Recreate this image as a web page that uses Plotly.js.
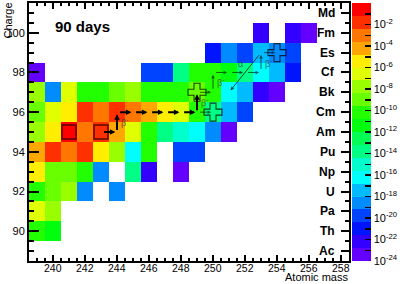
<!DOCTYPE html>
<html><head><meta charset="utf-8">
<script src="https://cdn.plot.ly/plotly-3.0.1.min.js"></script>
<style>html,body{margin:0;padding:0;background:#fff}</style>
</head><body><div id="chart" style="width:407px;height:284px"></div>
<script>
// Atomic mass columns and charge rows
const masses = [239,240,241,242,243,244,245,246,247,248,249,250,251,252,253,254,255,256,257,258];
const charges = [89,90,91,92,93,94,95,96,97,98,99,100,101];
const elements = ['Ac','Th','Pa','U','Np','Pu','Am','Cm','Bk','Cf','Es','Fm','Md'];
const massTicks = [240,242,244,246,248,250,252,254,256,258];

// log10 of relative abundance after 90 days, per charge row (mass 239..258), null = empty
const logZ89  = [null,null,null,null,null,null,null,null,null,null,null,null,null,null,null,null,null,null,null,null];
const logZ90  = [-10.2,-11.4,null,null,null,null,null,null,null,null,null,null,null,null,null,null,null,null,null,null];
const logZ91  = [-6.6,-7.8,null,null,null,null,null,null,null,null,null,null,null,null,null,null,null,null,null,null];
const logZ92  = [-10.2,-9.0,-7.8,-18.6,null,-18.6,null,null,null,null,null,null,null,null,null,null,null,null,null,null];
const logZ93  = [-5.4,-9.0,-9.0,-10.2,-18.6,null,-13.8,-22.2,null,-23.4,null,null,null,null,null,null,null,null,null,null];
const logZ94  = [-4.2,-1.8,-3.0,-1.8,-5.4,-7.8,-16.2,-10.2,null,-19.8,-19.8,null,null,null,null,null,null,null,null,null];
const logZ95  = [-7.8,-5.4,-0.6,-3.0,-1.8,-4.2,-6.6,-10.2,-13.8,-15.0,-16.2,-18.6,-23.4,null,null,null,null,null,null,null];
const logZ96  = [-9.0,-6.6,-5.4,-1.8,-3.0,-1.8,-3.0,-4.2,-5.4,-6.6,-10.2,-13.8,-17.4,-19.8,null,null,null,null,null,null];
const logZ97  = [-7.8,-18.6,-6.6,-10.2,-10.2,-9.0,-7.8,-10.2,-10.2,-10.2,-9.0,-10.2,-16.2,-17.4,-22.2,-23.4,null,null,null,null];
const logZ98  = [-23.4,null,null,null,null,null,null,-19.8,-19.8,-13.8,-10.2,-10.2,-11.4,-13.8,-16.2,-17.4,-21.0,null,null,null];
const logZ99  = [null,null,null,null,null,null,null,null,null,null,null,-21.0,-18.6,-19.8,-17.4,-18.6,-19.8,null,null,null];
const logZ100 = [null,null,null,null,null,null,null,null,null,null,null,null,null,null,-22.2,null,-22.2,-23.4,null,null];
const logZ101 = [null,null,null,null,null,null,null,null,null,null,null,null,null,null,null,null,null,null,null,null];

// colour bar
const cbTickVals = [-24,-23,-22,-21,-20,-19,-18,-17,-16,-15,-14,-13,-12,-11,-10,-9,-8,-7,-6,-5,-4,-3,-2,-1,0];
const cbTickText = ['10<sup>-24</sup>','','10<sup>-22</sup>','','10<sup>-20</sup>','','10<sup>-18</sup>','','10<sup>-16</sup>','','10<sup>-14</sup>','','10<sup>-12</sup>','','10<sup>-10</sup>','','10<sup>-8</sup>','','10<sup>-6</sup>','','10<sup>-4</sup>','','10<sup>-2</sup>','','1'];

// markers
const squareA = [241,243], squareZ = [95,95];
const crossA = [249,250,254], crossZ = [97,96,99];

// reaction path (nuclide to nuclide)
const mainFromA = [243,244,244,245,246,247,248,249];
const mainFromZ = [95,95,96,96,96,96,96,96];
const mainToA   = [244,244,245,246,247,248,249,249];
const mainToZ   = [95,96,96,96,96,96,96,97];
const sideFromA = [249,249,250,250,251,252,253,253];
const sideFromZ = [96,97,97,98,98,98,98,99];
const sideToA   = [250,250,250,251,252,253,253,254];
const sideToZ   = [96,97,98,98,98,98,99,99];
const alphaFrom = [253,99], alphaTo = [251,97];

const palette = ['#6300ff','#3300ff','#0014ff','#0044ff','#008bff','#00bbff','#00fffc','#00ffcc','#00ff85','#00ff55',
                 '#00ff0e','#22ff00','#69ff00','#99ff00','#e0ff00','#ffee00','#ffa700','#ff7700','#ff3000','#ff0000'];
const colorscale = [];
palette.forEach((c,j)=>{colorscale.push([j/palette.length,c]);colorscale.push([(j+1)/palette.length,c]);});

const zRows = [logZ89,logZ90,logZ91,logZ92,logZ93,logZ94,logZ95,logZ96,logZ97,logZ98,logZ99,logZ100,logZ101];
const FONT = 'Liberation Sans, Arial, sans-serif';

const traces = [
  {type:'heatmap', x:masses, y:charges, z:zRows, zmin:-24, zmax:0, colorscale:colorscale,
   hoverinfo:'skip', zsmooth:false,
   colorbar:{thickness:19, thicknessmode:'pixels', len:1, lenmode:'fraction', x:1.009, xanchor:'left',
     y:0.5, yanchor:'middle', outlinewidth:0, ticks:'inside', ticklen:6, tickwidth:1.5, tickcolor:'#000',
     tickmode:'array', tickvals:cbTickVals, ticktext:cbTickText, tickfont:{family:FONT,size:11,color:'#000'},
     xpad:0, ypad:0}},
  {type:'scatter', mode:'markers', x:squareA, y:squareZ, hoverinfo:'skip', showlegend:false,
   marker:{symbol:'square-open', size:14, color:'rgba(60,0,0,0.85)', line:{width:1.5}}},
  {type:'scatter', mode:'markers', x:crossA, y:crossZ, hoverinfo:'skip', showlegend:false,
   marker:{symbol:'cross-open', size:15, color:'rgba(0,0,0,0.75)', line:{width:1.1}}},
  {type:'scatter', x:[null], y:[null], yaxis:'y2', hoverinfo:'skip', showlegend:false}
];

const annotations = [];
function arrow(fa,fz,ta,tz,w,col,s0,s1,hs){
  const da=ta-fa, dz=tz-fz;
  annotations.push({xref:'x',yref:'y',axref:'x',ayref:'y', x:fa+s1*da, y:fz+s1*dz, ax:fa+s0*da, ay:fz+s0*dz,
    text:'', showarrow:true, arrowhead:2, arrowsize:hs, arrowwidth:w, arrowcolor:col, standoff:0, startstandoff:0});
}
function beta(a,z){
  annotations.push({xref:'x',yref:'y',x:a+0.12,y:z,xanchor:'left',yanchor:'middle',showarrow:false,
    text:'β<sup>-</sup>',font:{family:FONT,size:9,color:'rgba(60,60,60,0.8)'}});
}
for(let i=0;i<mainFromA.length;i++){
  const vert = mainFromA[i]===mainToA[i];
  arrow(mainFromA[i],mainFromZ[i],mainToA[i],mainToZ[i],2,'#000',vert?0.02:0.1,0.9,0.55);
  if(vert) beta(mainFromA[i],(mainFromZ[i]+mainToZ[i])/2);
}
for(let i=0;i<sideFromA.length;i++){
  const vert = sideFromA[i]===sideToA[i];
  arrow(sideFromA[i],sideFromZ[i],sideToA[i],sideToZ[i],1,'rgba(0,0,0,0.6)',0.1,0.88,0.7);
  if(vert) beta(sideFromA[i],(sideFromZ[i]+sideToZ[i])/2);
}
arrow(alphaFrom[0],alphaFrom[1],alphaTo[0],alphaTo[1],1,'rgba(0,0,0,0.7)',0.03,0.95,0.7);
annotations.push({xref:'x',yref:'y',x:(alphaFrom[0]+alphaTo[0])/2-0.3,y:(alphaFrom[1]+alphaTo[1])/2+0.45,showarrow:false,
  text:'α',font:{family:FONT,size:9,color:'rgba(60,60,60,0.8)'}});

charges.forEach((z,i)=>annotations.push({xref:'paper',yref:'y',x:0.9636,y:z,xanchor:'right',yanchor:'middle',
  showarrow:false,text:'<b>'+elements[i]+'</b>',font:{family:FONT,size:12,color:'#000'}}));
massTicks.forEach(m=>annotations.push({xref:'x',yref:'paper',x:m,y:-0.027,xanchor:'center',yanchor:'middle',
  showarrow:false,borderpad:0,text:String(m),font:{family:FONT,size:10.5,color:'#000'}}));
annotations.push({xref:'paper',yref:'paper',x:0.0758,y:0.907,xanchor:'left',yanchor:'middle',showarrow:false,
  text:'<b>90 days</b>',font:{family:FONT,size:15,color:'#000'}});
annotations.push({xref:'paper',yref:'paper',x:-0.067,y:1.008,xanchor:'center',yanchor:'top',textangle:-90,showarrow:false,
  text:'Charge',font:{family:FONT,size:11,color:'#000'}});
annotations.push({xref:'paper',yref:'paper',x:1,y:-0.0625,xanchor:'right',yanchor:'middle',showarrow:false,borderpad:0,
  text:'Atomic mass',font:{family:FONT,size:11,color:'#000'}});

const layout = {
  width:407, height:284, margin:{l:29,r:48,t:3,b:23}, paper_bgcolor:'#fff', plot_bgcolor:'#fff',
  showlegend:false,
  xaxis:{range:[238.5,258.5], tick0:240, dtick:2, ticks:'inside', ticklen:6, tickwidth:2, tickcolor:'#000',
    showline:true, linewidth:2, linecolor:'#000', mirror:'ticks', showgrid:false, zeroline:false,
    showticklabels:false,
    minor:{dtick:0.5, tick0:0, ticks:'inside', ticklen:3, tickwidth:2, tickcolor:'#000', showgrid:false}},
  yaxis:{range:[88.5,101.5], tick0:90, dtick:2, ticks:'inside', ticklen:10, tickwidth:2, tickcolor:'#000',
    showline:true, linewidth:2, linecolor:'#000', mirror:true, showgrid:false, zeroline:false,
    tickfont:{family:FONT,size:11,color:'#000'},
    minor:{dtick:0.5, tick0:0, ticks:'inside', ticklen:5, tickwidth:2, tickcolor:'#000', showgrid:false}},
  yaxis2:{range:[88.5,101.5], overlaying:'y', side:'right', tick0:89, dtick:1, ticks:'inside', ticklen:8, tickwidth:2,
    tickcolor:'#000', showticklabels:false, showline:true, linewidth:2, linecolor:'#000', showgrid:false, zeroline:false,
    minor:{dtick:0.5, tick0:0, ticks:'inside', ticklen:4, tickwidth:2, tickcolor:'#000', showgrid:false}},
  annotations:annotations
};
Plotly.newPlot('chart', traces, layout, {staticPlot:true, displayModeBar:false});
</script></body></html>
